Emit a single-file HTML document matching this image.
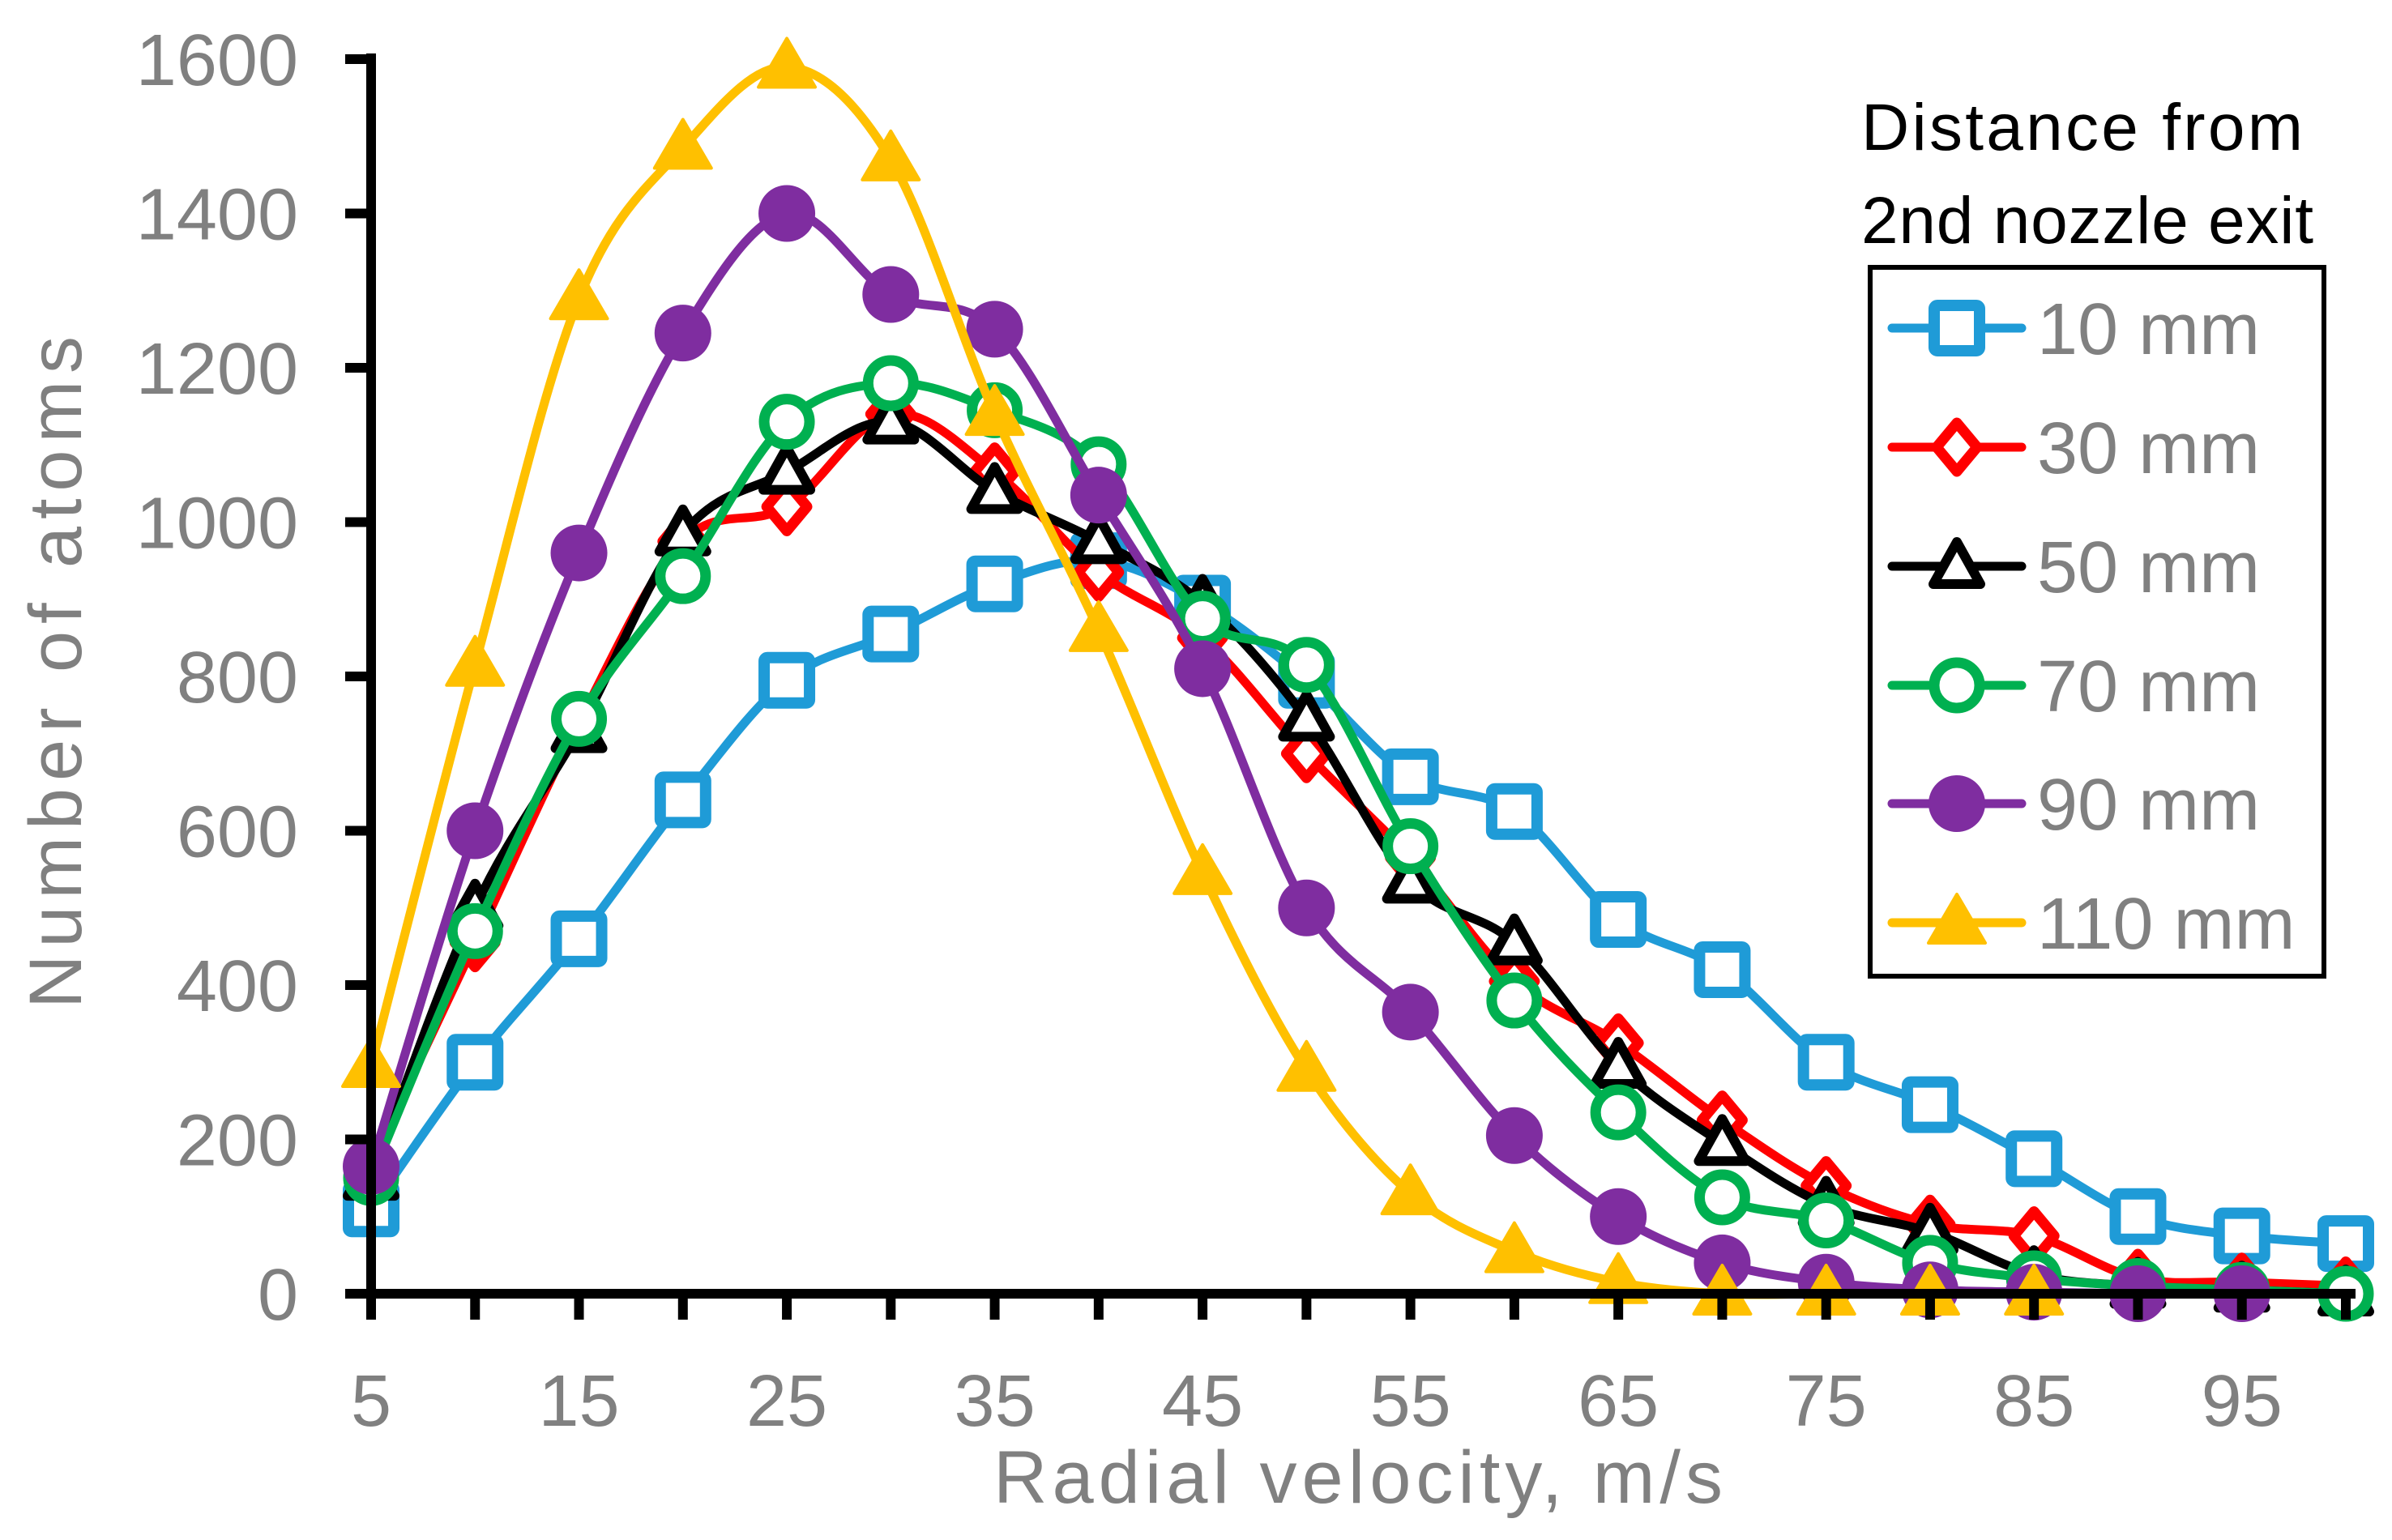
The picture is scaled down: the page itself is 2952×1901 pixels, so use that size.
<!DOCTYPE html>
<html><head><meta charset="utf-8"><style>
html,body{margin:0;padding:0;background:#fff}
svg{display:block}
text{font-family:"Liberation Sans",sans-serif}
</style></head><body>
<svg id="chart" width="2952" height="1901" viewBox="0 0 2952 1901" xmlns="http://www.w3.org/2000/svg">
<g id="series-layer"></g>
<g id="axes-layer"></g>
<g id="legend">
<text x="2297" y="185" font-size="82" fill="#000" textLength="545">Distance from</text>
<text x="2297" y="300" font-size="82" fill="#000" textLength="558">2nd nozzle exit</text>
<rect x="2308" y="330" width="560" height="875" fill="none" stroke="#000" stroke-width="6"/>
</g>
</svg>
<script>
const xCats = [5,10,15,20,25,30,35,40,45,50,55,60,65,70,75,80,85,90,95,100];
const s10 = [110,300,460,640,795,855,920,950,895,795,670,625,485,420,300,245,175,100,75,65];
const s30 = [170,455,740,975,1020,1140,1065,935,850,700,565,405,325,225,140,90,75,20,15,10];
const s50 = [150,500,730,985,1065,1130,1040,975,895,745,535,455,295,195,115,80,25,10,5,0];
const s70 = [150,470,745,930,1130,1180,1145,1075,875,815,580,380,235,125,95,40,20,10,5,0];
const s90 = [165,600,960,1245,1400,1295,1250,1035,810,500,365,205,100,40,15,5,2,0,0];
const s110 = [295,815,1290,1485,1590,1470,1140,860,545,290,130,55,15,0,0,0,0];
const yTicks = [0,200,400,600,800,1000,1200,1400,1600];
const xTickLabels = [5,15,25,35,45,55,65,75,85,95];
const seriesNames = ["10 mm","30 mm","50 mm","70 mm","90 mm","110 mm"];

const NS="http://www.w3.org/2000/svg";
const X0=458, X1=2895, Y0=1597, Y1=73;
const xs = v => X0 + (v-5)/95*(X1-X0);
const ys = v => Y0 - v/1600*(Y0-Y1);
function mk(tag, attrs, parent){const e=document.createElementNS(NS,tag);for(const k in attrs)e.setAttribute(k,attrs[k]);parent.appendChild(e);return e;}
const axes=document.getElementById('axes-layer');
const ser=document.getElementById('series-layer');
const leg=document.getElementById('legend');

let yl=mk('line',{x1:X0,y1:Y1-7,x2:X0,y2:Y0+6,stroke:'#000','stroke-width':12},axes);


let xl=mk('line',{x1:X0-32,y1:Y0,x2:X1+12,y2:Y0,stroke:'#000','stroke-width':12},axes);


yTicks.forEach(t=>{
  const tk=mk('line',{x1:X0-32,y1:ys(t),x2:X0,y2:ys(t),stroke:'#000','stroke-width':12},axes);
  
  
  const tx=mk('text',{x:368,y:ys(t)+32,'font-size':90,fill:'#808080','text-anchor':'end'},axes);
  tx.textContent=t;
  
  
});
xCats.forEach(c=>{
  const tk=mk('line',{x1:xs(c),y1:Y0,x2:xs(c),y2:Y0+32,stroke:'#000','stroke-width':12},axes);
  
  
});
xTickLabels.forEach(c=>{
  const tx=mk('text',{x:xs(c),y:1760,'font-size':90,fill:'#808080','text-anchor':'middle'},axes);
  tx.textContent=c;
  
  
});
let xt=mk('text',{x:1676,y:1855,'font-size':92,fill:'#808080','text-anchor':'middle',textLength:900},axes);
xt.textContent='Radial velocity, m/s';


let yt=mk('text',{x:0,y:0,'font-size':92,fill:'#808080','text-anchor':'middle',textLength:830,transform:'translate(100,830) rotate(-90)'},axes);
yt.textContent='Number of atoms';



function smooth(pts){
  let d=`M${pts[0][0]},${pts[0][1]}`;
  for(let i=0;i<pts.length-1;i++){
    const p0=pts[i-1]||pts[i],p1=pts[i],p2=pts[i+1],p3=pts[i+2]||p2;
    const t=1/6;
    d+=` C${p1[0]+(p2[0]-p0[0])*t},${p1[1]+(p2[1]-p0[1])*t} ${p2[0]-(p3[0]-p1[0])*t},${p2[1]-(p3[1]-p1[1])*t} ${p2[0]},${p2[1]}`;
  }
  return d;
}
function marker(type,x,y,color,parent){
  let m;
  if(type==='square') m=mk('rect',{x:x-28,y:y-28,width:56,height:56,rx:4,fill:'#fff',stroke:color,'stroke-width':14},parent);
  else if(type==='diamond') m=mk('path',{d:`M${x},${y-30}L${x+25},${y}L${x},${y+30}L${x-25},${y}Z`,fill:'#fff',stroke:color,'stroke-width':13,'stroke-linejoin':'round'},parent);
  else if(type==='tri') m=mk('path',{d:`M${x},${y-30}L${x+29},${y+22}L${x-29},${y+22}Z`,fill:'#fff',stroke:color,'stroke-width':12,'stroke-linejoin':'round'},parent);
  else if(type==='circle') m=mk('circle',{cx:x,cy:y,r:28,fill:'#fff',stroke:color,'stroke-width':13},parent);
  else if(type==='dot') m=mk('circle',{cx:x,cy:y,r:35,fill:color},parent);
  else m=mk('path',{d:`M${x},${y-35}L${x+35},${y+25}L${x-35},${y+25}Z`,fill:color,stroke:color,'stroke-width':4,'stroke-linejoin':'round'},parent);
  return m;
}
const defs=[[s10,'#1F9BD7','square'],[s30,'#FF0000','diamond'],[s50,'#000000','tri'],[s70,'#00B050','circle'],[s90,'#7F2DA0','dot'],[s110,'#FFC000','ftri']];
const legY=[405,552,699,846,992,1139];
defs.forEach(([vals,color,type],si)=>{
  const g=mk('g',{},ser);
  
  
  const pts=vals.map((v,i)=>[xs(xCats[i]),ys(v)]);
  const p=mk('path',{d:smooth(pts),fill:'none',stroke:color,'stroke-width':11,'stroke-linecap':'round'},g);
  
  
  pts.forEach(([x,y])=>{
    const m=marker(type,x,y,color,g);
    
    
  });
  const lg=mk('g',{},leg);
  
  
  const ly=legY[si];
  mk('line',{x1:2335,y1:ly,x2:2495,y2:ly,stroke:color,'stroke-width':11,'stroke-linecap':'round'},lg);
  marker(type,2415,ly,color,lg);
  const t=mk('text',{x:2514,y:ly+32,'font-size':90,fill:'#808080'},lg);
  t.textContent=seriesNames[si];
});
</script>
</body></html>
